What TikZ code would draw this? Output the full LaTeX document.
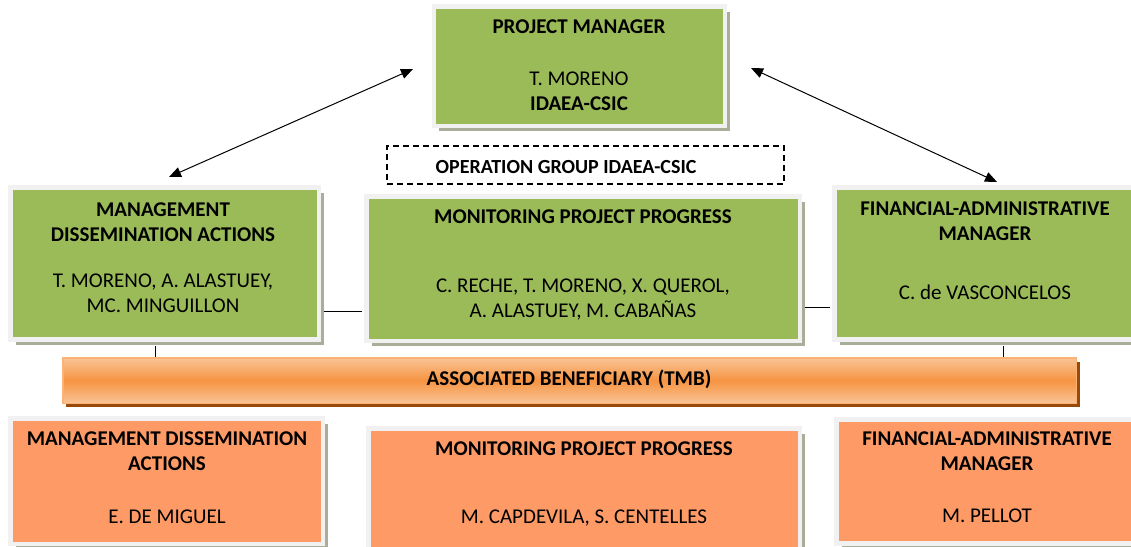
\documentclass[tikz,border=0pt]{standalone}
\usepackage{fontspec}
\setmainfont{Carlito}
\usetikzlibrary{arrows.meta,shadows}

\definecolor{boxgreen}{RGB}{155,187,89}
\definecolor{boxorange}{RGB}{253,154,102}
\definecolor{framegray}{RGB}{241,241,241}
\definecolor{shadowgreen}{RGB}{168,174,152}
\definecolor{barlight}{RGB}{250,196,150}
\definecolor{barmid}{RGB}{246,148,66}
\definecolor{barline}{RGB}{250,178,118}
\definecolor{barshadow}{RGB}{152,74,10}

\tikzset{
  box/.style={rectangle, draw=framegray, line width=4.5pt, inner sep=0pt,
    drop shadow={shadow xshift=5pt, shadow yshift=-5pt, fill=shadowgreen, opacity=1}},
  greenbox/.style={box, fill=boxgreen},
  orangebox/.style={box, fill=boxorange},
  txt/.style={inner sep=0pt, align=center, font=\fontsize{21}{25}\selectfont},
  ttl/.style={txt, font=\fontsize{21}{25}\selectfont\bfseries},
  biarrow/.style={line width=1pt, {Triangle[length=12pt,width=10pt]}-{Triangle[length=12pt,width=10pt]}},
  link/.style={line width=1pt, shorten <=2.25pt, shorten >=2.25pt},
}

\begin{document}
\begin{tikzpicture}[x=1pt, y=-1pt]

  %% ════ 方框 ════
  \node[greenbox, minimum width=291pt, minimum height=119.5pt] (pm) at (579.5,66.25) {};
  \node[draw, dash pattern=on 6pt off 4pt, line width=1.2pt, minimum width=397pt, minimum height=38pt] (opg) at (585.5,165) {};

  \node[greenbox, minimum width=308.5pt, minimum height=152pt] (mda) at (164.75,263.5) {};
  \node[greenbox, minimum width=433.5pt, minimum height=144.5pt] (mpp) at (583.25,268.75) {};
  \node[greenbox, minimum width=300.5pt, minimum height=152pt] (fam) at (984.75,263.5) {};

  \node[rectangle, draw=barline, line width=1.5pt, minimum width=1013.5pt, minimum height=45.5pt,
        top color=barlight, bottom color=barlight, middle color=barmid,
        drop shadow={shadow xshift=3.5pt, shadow yshift=-4pt, fill=barshadow, opacity=1}] (tmb) at (569.5,380.5) {};

  \node[orangebox, minimum width=312.5pt, minimum height=125.5pt] (tmda) at (166.75,481.25) {};
  \node[orangebox, minimum width=431.5pt, minimum height=125pt] (tmpp) at (584.25,491) {};
  \node[orangebox, minimum width=298.5pt, minimum height=124pt] (tfam) at (985.75,481.5) {};

  %% ════ 连线 ════
  \coordinate (pmW) at (413,69);
  \coordinate (pmE) at (751,68);
  \coordinate (mdaN) at (169,177);
  \coordinate (famN) at (997,182);
  \draw[biarrow] (pmW) -- (mdaN);
  \draw[biarrow] (pmE) -- (famN);

  \draw[link] (mda.east |- 0,311) -- (mpp.west |- 0,311);
  \draw[link] (mpp.east |- 0,307) -- (fam.west |- 0,307);
  \draw[line width=1pt] (mda.south -| 155,0) ++(0,4) -- (tmb.north -| 155,0);
  \draw[line width=1pt] (fam.south -| 1003,0) ++(0,4) -- (tmb.north -| 1003,0);

  %% ════ 文字 ════
  \node[ttl, anchor=base] (pmT) at (579,33.5) {PROJECT MANAGER};
  \node[txt] (pmN) at (579,91.3) {T. MORENO\\\textbf{IDAEA-CSIC}};
  \node[anchor=base, inner sep=0pt, font=\fontsize{20}{24}\selectfont\bfseries] (opgT) at (566,173.3) {OPERATION GROUP IDAEA-CSIC};

  \node[ttl] (mdaT) at (163,222) {MANAGEMENT\\DISSEMINATION ACTIONS};
  \node[txt] (mdaN) at (163,293.3) {T. MORENO, A. ALASTUEY,\\MC. MINGUILLON};
  \node[ttl, anchor=base] (mppT) at (583,223.1) {MONITORING PROJECT PROGRESS};
  \node[txt] (mppN) at (583,299.6) {C. RECHE, T. MORENO, X. QUEROL,\\A. ALASTUEY, M. CABAÑAS};
  \node[ttl] (famT) at (985,220.8) {FINANCIAL-ADMINISTRATIVE\\MANAGER};
  \node[txt, anchor=base] (famN) at (985,299.8) {C. de VASCONCELOS};

  \node[ttl, anchor=base] (tmbT) at (569,385.8) {ASSOCIATED BENEFICIARY (TMB)};

  \node[ttl] (tmdaT) at (167,451.5) {MANAGEMENT DISSEMINATION\\ACTIONS};
  \node[txt, anchor=base] (tmdaN) at (167,523) {E. DE MIGUEL};
  \node[ttl, anchor=base] (tmppT) at (584,455.1) {MONITORING PROJECT PROGRESS};
  \node[txt, anchor=base] (tmppN) at (584,523.5) {M. CAPDEVILA, S. CENTELLES};
  \node[ttl] (tfamT) at (987,451.5) {FINANCIAL-ADMINISTRATIVE\\MANAGER};
  \node[txt, anchor=base] (tfamN) at (987,522.5) {M. PELLOT};

  % 固定画布
  \pgfresetboundingbox
  \path[use as bounding box] (0,0) rectangle (1131,546);
\end{tikzpicture}
\end{document}
